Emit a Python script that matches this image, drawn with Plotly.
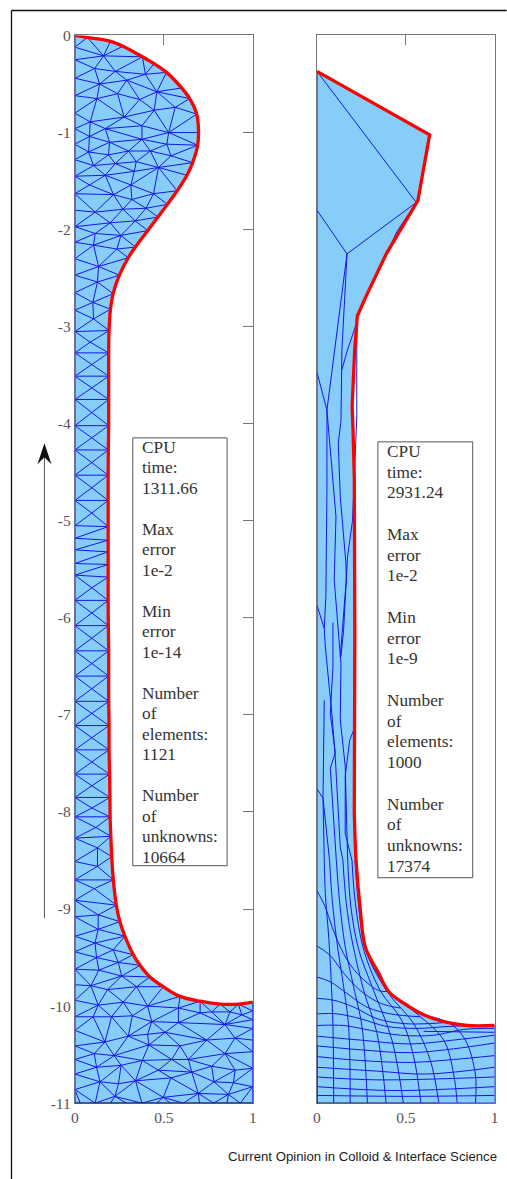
import plotly.graph_objects as go

# ---------- tick labels ----------
Y_TICKS = [0, -1, -2, -3, -4, -5, -6, -7, -8, -9, -10, -11]
Y_LABELS = ["0", "-1", "-2", "-3", "-4", "-5", "-6", "-7", "-8", "-9", "-10", "-11"]
X_TICKS = [0, 0.5, 1]
X_LABELS = ["0", "0.5", "1"]

# ---------- left panel: free surface (top to bottom) ----------
LEFT_SURFACE = [(0.0, 0.0), (0.07, -0.02), (0.2, -0.06), (0.27, -0.11), (0.38, -0.22), (0.445, -0.29),
    (0.515, -0.38), (0.60, -0.54), (0.645, -0.65), (0.685, -0.81), (0.695, -1.0), (0.69, -1.13),
    (0.662, -1.31), (0.63, -1.44), (0.575, -1.60), (0.52, -1.74), (0.467, -1.87), (0.41, -2.01),
    (0.34, -2.18), (0.30, -2.29), (0.25, -2.47), (0.215, -2.66), (0.2, -2.82), (0.192, -3.04),
    (0.19, -3.27), (0.19, -3.51), (0.19, -3.75), (0.19, -4.02), (0.188, -4.27), (0.187, -4.53),
    (0.187, -4.79), (0.187, -5.06), (0.187, -5.2), (0.187, -5.32), (0.187, -5.45), (0.187, -5.58),
    (0.187, -5.82), (0.188, -6.08), (0.19, -6.34), (0.19, -6.6), (0.19, -6.86), (0.192, -7.11),
    (0.192, -7.36), (0.195, -7.61), (0.197, -7.85), (0.198, -8.05), (0.202, -8.25), (0.207, -8.46),
    (0.216, -8.7), (0.233, -8.96), (0.253, -9.13), (0.281, -9.28), (0.328, -9.47), (0.366, -9.58),
    (0.422, -9.70), (0.497, -9.80), (0.591, -9.90), (0.704, -9.95), (0.816, -9.98), (0.919, -9.98),
    (1.0, -9.96)]
LEFT_AXIS_Y = [-0.12, -0.25, -0.44, -0.62, -0.80, -0.96, -1.12, -1.28, -1.45, -1.63, -1.80, -1.97,
    -2.13, -2.30, -2.47, -2.65, -2.83, -3.05, -3.27, -3.51, -3.75, -4.02, -4.27, -4.53, -4.79, -5.05,
    -5.18, -5.30, -5.44, -5.56, -5.82, -6.08, -6.34, -6.6, -6.86, -7.11, -7.36, -7.61, -7.85, -8.05,
    -8.27, -8.51, -8.70, -8.91, -9.08, -9.28, -9.44, -9.62, -9.78, -9.94, -10.11, -10.25, -10.41,
    -10.55, -10.70, -10.86]
LEFT_BOTTOM_X = [0.03, 0.114, 0.2, 0.29, 0.377, 0.46, 0.535, 0.61, 0.70, 0.78, 0.855, 0.93]
LEFT_EDGE_Y = [-10.05, -10.14, -10.23, -10.35, -10.47, -10.64, -10.83]
LEFT_INNER = [(0.161, -0.21), (0.111, -0.34), (0.227, -0.37), (0.396, -0.40), (0.139, -0.50), (0.292, -0.46),
    (0.461, -0.58), (0.124, -0.65), (0.24, -0.60), (0.364, -0.66), (0.564, -0.74), (0.446, -0.77),
    (0.277, -0.84), (0.086, -0.89), (0.171, -0.96), (0.377, -0.93), (0.527, -1.0), (0.082, -1.04),
    (0.195, -1.10), (0.377, -1.07), (0.517, -1.12), (0.077, -1.20), (0.189, -1.23), (0.302, -1.19),
    (0.424, -1.19), (0.54, -1.24), (0.105, -1.34), (0.227, -1.32), (0.345, -1.30), (0.47, -1.36),
    (0.171, -1.44), (0.334, -1.40), (0.082, -1.54), (0.315, -1.54), (0.442, -1.63), (0.217, -1.64),
    (0.32, -1.69), (0.114, -1.82), (0.27, -1.79), (0.40, -1.78), (0.199, -1.93), (0.339, -1.91),
    (0.114, -2.04), (0.259, -2.06), (0.105, -2.16), (0.236, -2.20), (0.133, -2.38), (0.127, -2.54),
    (0.101, -2.75), (0.105, -2.92), (0.086, -3.16),
    (0.095, -3.39), (0.095, -3.63), (0.095, -3.885), (0.095, -4.145), (0.095, -4.40), (0.095, -4.66),
    (0.095, -4.92), (0.095, -5.69), (0.095, -5.95), (0.095, -6.21), (0.095, -6.47), (0.095, -6.73),
    (0.095, -6.985), (0.095, -7.235), (0.095, -7.485), (0.095, -7.73),
    (0.096, -7.96), (0.118, -8.16), (0.127, -8.37), (0.127, -8.56), (0.109, -8.79), (0.131, -9.06),
    (0.131, -9.21), (0.113, -9.35), (0.216, -9.42), (0.122, -9.50), (0.244, -9.55), (0.135, -9.63),
    (0.263, -9.69), (0.09, -9.79), (0.184, -9.83), (0.347, -9.80), (0.131, -9.99), (0.272, -9.96),
    (0.409, -10.0), (0.582, -10.02), (0.103, -10.11), (0.206, -10.11), (0.323, -10.10), (0.432, -10.16),
    (0.582, -10.17), (0.704, -10.07), (0.769, -10.06), (0.872, -10.06), (0.938, -10.09), (0.844, -10.19),
    (0.169, -10.37), (0.30, -10.31), (0.409, -10.29), (0.507, -10.27), (0.591, -10.41), (0.416, -10.40),
    (0.741, -10.35), (0.90, -10.33), (0.109, -10.49), (0.221, -10.51), (0.379, -10.56), (0.544, -10.55),
    (0.638, -10.55), (0.844, -10.49), (0.122, -10.63), (0.26, -10.61), (0.469, -10.66), (0.657, -10.68),
    (0.769, -10.62), (0.901, -10.66), (0.141, -10.78), (0.341, -10.77), (0.245, -10.80), (0.54, -10.74),
    (0.694, -10.90), (0.782, -10.78), (0.891, -10.79), (0.497, -10.94), (0.225, -10.93), (0.863, -10.91)]

# ---------- right panel: free surface and mesh lines ----------
RIGHT_SURFACE_UPPER = [(0.0, -0.37), (0.634, -1.024), (0.568, -1.70), (0.39, -2.25), (0.278, -2.68), (0.227, -2.89),
    (0.212, -3.25), (0.205, -3.6), (0.198, -3.82), (0.203, -4.07), (0.21, -4.55), (0.213, -6.15), (0.21, -7.2),
    (0.21, -8.0)]
RIGHT_SURFACE_LOWER = [(0.21, -8.0), (0.22, -8.5), (0.244, -9.01), (0.272, -9.39), (0.347, -9.66), (0.403, -9.85),
    (0.488, -9.97), (0.6, -10.09), (0.713, -10.16), (0.844, -10.2), (1.0, -10.2)]
RIGHT_TOP_LINES = [
    [(0.0, -0.37), (0.559, -1.72)],
    [(0.0, -1.80), (0.169, -2.25), (0.559, -1.72)],
    [(0.559, -1.72), (0.45, -2.02), (0.227, -2.89), (0.224, -3.18), (0.224, -3.93), (0.21, -4.48), (0.2, -5.0),
     (0.172, -5.37), (0.16, -5.78), (0.15, -6.12), (0.135, -6.4)],
    [(0.169, -2.25), (0.10, -3.25), (0.056, -3.86), (0.107, -4.96), (0.097, -5.61), (0.135, -6.47), (0.131, -7.05),
     (0.159, -7.53), (0.173, -8.50)],
    [(0.169, -2.25), (0.14, -3.25), (0.139, -3.45), (0.135, -3.97), (0.12, -4.2), (0.131, -4.75), (0.163, -5.44),
     (0.165, -5.61), (0.131, -6.40)],
    [(0.225, -2.95), (0.17, -3.25), (0.139, -3.45)],
    [(0.0, -3.47), (0.056, -3.86), (0.056, -4.69), (0.05, -5.78), (0.041, -6.11), (0.047, -6.30), (0.084, -6.99),
     (0.103, -7.43), (0.112, -7.74), (0.131, -8.36), (0.146, -8.5)],
    [(0.0, -5.87), (0.041, -6.11)],
    [(0.041, -6.85), (0.034, -7.84), (0.041, -8.5)],
    [(0.09, -6.05), (0.09, -6.50), (0.075, -6.99), (0.103, -7.39), (0.075, -7.55), (0.109, -8.50)],
    [(0.206, -7.16), (0.184, -7.26), (0.159, -7.63), (0.159, -8.22), (0.197, -8.50)],
    [(0.0, -7.76), (0.034, -7.86), (0.071, -8.50)],
]
RIGHT_RISERS = [
    [(0.041, -8.50), (0.047, -8.84), (0.066, -9.29), (0.079, -9.70), (0.09, -10.21), (0.094, -11)],
    [(0.071, -8.50), (0.086, -8.91), (0.116, -9.39), (0.15, -9.80), (0.178, -10.21), (0.187, -11)],
    [(0.109, -8.50), (0.128, -8.94), (0.159, -9.39), (0.206, -9.80), (0.253, -10.21), (0.284, -11)],
    [(0.146, -8.50), (0.165, -8.94), (0.197, -9.32), (0.263, -9.84), (0.338, -10.28), (0.389, -11)],
    [(0.173, -8.50), (0.191, -8.98), (0.235, -9.42), (0.31, -9.80), (0.422, -10.35), (0.486, -11)],
    [(0.197, -8.50), (0.216, -8.94), (0.263, -9.42), (0.356, -9.84), (0.478, -10.15), (0.544, -10.52), (0.585, -11)],
    [(0.214, -8.50), (0.244, -9.12), (0.281, -9.46), (0.403, -9.87), (0.544, -10.18), (0.638, -10.56), (0.686, -11)],
    [(0.291, -9.49), (0.413, -9.87), (0.563, -10.08), (0.713, -10.35), (0.769, -10.70), (0.789, -11)],
    [(0.60, -10.09), (0.75, -10.18), (0.835, -10.35), (0.891, -10.70), (0.892, -11)],
]
RIGHT_LAYERS = [
    [(0, -8.81), (0.047, -8.98), (0.084, -9.18), (0.15, -9.46), (0.225, -9.66), (0.347, -9.84), (0.398, -9.85)],
    [(0, -9.38), (0.075, -9.48), (0.15, -9.66), (0.244, -9.84), (0.356, -9.97), (0.469, -10.02)],
    [(0, -9.70), (0.075, -9.75), (0.169, -9.87), (0.281, -10.01), (0.413, -10.08), (0.582, -10.11)],
    [(0, -9.92), (0.094, -9.94), (0.206, -10.01), (0.338, -10.13), (0.488, -10.18), (0.638, -10.18), (0.713, -10.17)],
    [(0, -10.08), (0.113, -10.08), (0.244, -10.13), (0.394, -10.21), (0.563, -10.23), (0.732, -10.21), (0.844, -10.20)],
    [(0, -10.20), (0.15, -10.20), (0.30, -10.25), (0.469, -10.30), (0.657, -10.30), (0.826, -10.24), (1, -10.23)],
    [(0, -10.31), (0.244, -10.35), (0.525, -10.39), (0.769, -10.35), (1, -10.30)],
    [(0, -10.41), (0.244, -10.45), (0.525, -10.48), (0.769, -10.44), (1, -10.38)],
    [(0, -10.52), (0.244, -10.56), (0.525, -10.58), (0.769, -10.55), (1, -10.51)],
    [(0, -10.63), (0.338, -10.67), (0.619, -10.70), (1, -10.63)],
    [(0, -10.73), (0.338, -10.76), (1, -10.73)],
    [(0, -10.83), (0.432, -10.87), (1, -10.83)],
    [(0, -10.92), (0.525, -10.93), (1, -10.92)],
    [(0.6, -10.26), (1, -10.27)],
]

LEFT_BOX = ["CPU", "time:", "1311.66", "", "Max", "error", "1e-2", "", "Min", "error", "1e-14", "",
            "Number", "of", "elements:", "1121", "", "Number", "of", "unknowns:", "10664"]
RIGHT_BOX = ["CPU", "time:", "2931.24", "", "Max", "error", "1e-2", "", "Min", "error", "1e-9", "",
             "Number", "of", "elements:", "1000", "", "Number", "of", "unknowns:", "17374"]
CREDIT = "Current Opinion in Colloid & Interface Science"

FILL = "#87CDFA"
MESH = "#1616E6"
RED = "#FF0000"
W, H = 511, 1188
SCALE = 0.986
DX, DY = 3.5, 8.5


def PX(x):
    return (x - DX) / SCALE / W


def PY(y):
    return 1 - (y - DY) / SCALE / H


def delaunay(points):
    # Bowyer-Watson triangulation of the nodes
    pts = list(points) + [(-50.0, -80.0), (60.0, -80.0), (0.5, 70.0)]
    n = len(points)
    def circum(t):
        (ax, ay), (bx, by), (cx, cy) = pts[t[0]], pts[t[1]], pts[t[2]]
        d = 2 * (ax * (by - cy) + bx * (cy - ay) + cx * (ay - by))
        ux = ((ax*ax+ay*ay)*(by-cy) + (bx*bx+by*by)*(cy-ay) + (cx*cx+cy*cy)*(ay-by)) / d
        uy = ((ax*ax+ay*ay)*(cx-bx) + (bx*bx+by*by)*(ax-cx) + (cx*cx+cy*cy)*(bx-ax)) / d
        return ux, uy, (ax-ux)**2 + (ay-uy)**2
    tris = [(n, n + 1, n + 2)]
    cache = {tris[0]: circum(tris[0])}
    for i in range(n):
        px, py = pts[i]
        bad = [t for t in tris if (px-cache[t][0])**2 + (py-cache[t][1])**2 < cache[t][2]]
        edges = {}
        for t in bad:
            for e in ((t[0], t[1]), (t[1], t[2]), (t[2], t[0])):
                k = tuple(sorted(e))
                edges[k] = edges.get(k, 0) + 1
        tris = [t for t in tris if t not in bad]
        for (a, b), c in edges.items():
            if c == 1:
                (ax, ay), (bx, by) = pts[a], pts[b]
                if abs((ax-px)*(by-py) - (ay-py)*(bx-px)) < 1e-12:
                    continue
                t = (a, b, i)
                cache[t] = circum(t)
                tris.append(t)
    return [t for t in tris if max(t) < n]


def inside(p, poly):
    x, y = p
    res = False
    for i in range(len(poly)):
        (x1, y1), (x2, y2) = poly[i], poly[(i + 1) % len(poly)]
        if (y1 > y) != (y2 > y) and x < x1 + (y - y1) * (x2 - x1) / (y2 - y1):
            res = not res
    return res


left_poly = LEFT_SURFACE + [(1.0, y) for y in LEFT_EDGE_Y] + [(1.0, -11.0)] + \
    [(x, -11.0) for x in reversed(LEFT_BOTTOM_X)] + [(0.0, -11.0)] + [(0.0, y) for y in reversed(LEFT_AXIS_Y)]
left_nodes = left_poly + LEFT_INNER
seen = set()
mx, my = [], []
for t in delaunay(left_nodes):
    c = tuple(sum(left_nodes[i][k] for i in t) / 3 for k in (0, 1))
    if not inside(c, left_poly):
        continue
    for a, b in ((t[0], t[1]), (t[1], t[2]), (t[2], t[0])):
        k = tuple(sorted((a, b)))
        if k not in seen:
            seen.add(k)
            mx += [left_nodes[a][0], left_nodes[b][0], None]
            my += [left_nodes[a][1], left_nodes[b][1], None]

right_poly = RIGHT_SURFACE_UPPER + RIGHT_SURFACE_LOWER[1:] + [(1.0, -11.0), (0.0, -11.0)]


def flat(lines):
    xs, ys = [], []
    for line in lines:
        xs += [p[0] for p in line] + [None]
        ys += [p[1] for p in line] + [None]
    return xs, ys


fig = go.Figure()


def add(xs, ys, color, width, axis, shape="linear"):
    fig.add_trace(go.Scatter(x=xs, y=ys, mode="lines", line=dict(color=color, width=width, shape=shape),
                             xaxis="x" + axis, yaxis="y" + axis, cliponaxis=False,
                             hoverinfo="skip", showlegend=False))


fig.add_trace(go.Scatter(x=[p[0] for p in left_poly], y=[p[1] for p in left_poly], mode="lines", fill="toself",
                         fillcolor=FILL, line=dict(width=0), xaxis="x", yaxis="y",
                         hoverinfo="skip", showlegend=False))
fig.add_trace(go.Scatter(x=[p[0] for p in right_poly], y=[p[1] for p in right_poly], mode="lines", fill="toself",
                         fillcolor=FILL, line=dict(width=0), xaxis="x2", yaxis="y2",
                         hoverinfo="skip", showlegend=False))
add(mx, my, MESH, 1.0, "")
tx, ty = flat(RIGHT_TOP_LINES)
add(tx, ty, MESH, 1.0, "2")
sx, sy = flat(RIGHT_RISERS + RIGHT_LAYERS)
add(sx, sy, MESH, 1.0, "2", "spline")
add([0, 0], [0, -11], "#4F62F5", 1.6, "")
add([0, 0], [-0.37, -11], "#2A3CF0", 1.3, "2")
add([1, 1], [-10.2, -11], "#3A4CF0", 1.2, "2")
add([1, 1], [-9.96, -11], "#3A4CF0", 1.2, "")
add([0, 1], [-11, -11], "#1A1A50", 1.1, "")
add([0, 0.68], [-11, -11], "#1A1A50", 1.1, "2")
add([0.68, 1], [-11, -11], "#2A3CF0", 1.1, "2")
add([0, 0], [-10.4, -11], "#1A1A50", 1.1, "2")
add([p[0] for p in LEFT_SURFACE], [p[1] for p in LEFT_SURFACE], RED, 3.3, "", "spline")
add([p[0] for p in RIGHT_SURFACE_UPPER], [p[1] for p in RIGHT_SURFACE_UPPER], RED, 3.3, "2")
add([p[0] for p in RIGHT_SURFACE_LOWER], [p[1] for p in RIGHT_SURFACE_LOWER], RED, 3.3, "2", "spline")

tick_font = dict(family="Liberation Serif", size=15.5, color="#555555")
ax_common = dict(range=[0, 1], showgrid=False, zeroline=False, showline=True, linecolor="#777777", linewidth=1,
                 mirror="ticks", ticks="inside", ticklen=10, tickcolor="#777777", tickfont=tick_font,
                 tickvals=X_TICKS, ticktext=X_LABELS, layer="below traces")
ydomain = [PY(1103), PY(35)]

annotations = []
for lines, left, first, step in ((LEFT_BOX, 140, 447, 20.5), (RIGHT_BOX, 385.5, 451, 20.75)):
    for i, line in enumerate(lines):
        if line:
            annotations.append(dict(xref="paper", yref="paper", x=PX(left), y=PY(first + i * step), xanchor="left",
                                    yanchor="middle", align="left", showarrow=False, text=line,
                                    font=dict(family="Liberation Serif", size=17.3, color="#333333")))
annotations.append(dict(xref="paper", yref="paper", x=PX(499), y=PY(1156), xanchor="right", yanchor="middle",
                        showarrow=False, text=CREDIT.replace("&", "&amp;"),
                        font=dict(family="Liberation Sans", size=13.2, color="#1a1a1a")))


def rect(x0, y0, x1, y1):
    return dict(type="rect", xref="paper", yref="paper", x0=PX(x0), x1=PX(x1), y0=PY(y0), y1=PY(y1),
                line=dict(color="#555555", width=1), fillcolor="rgba(0,0,0,0)")


def seg(x0, y0, x1, y1, color, width):
    return dict(type="line", xref="paper", yref="paper", x0=PX(x0), x1=PX(x1), y0=PY(y0), y1=PY(y1),
                line=dict(color=color, width=width))


head = "M {:.5f} {:.5f} L {:.5f} {:.5f} L {:.5f} {:.5f} L {:.5f} {:.5f} Z".format(
    PX(44), PY(443), PX(51), PY(464), PX(44), PY(457), PX(37), PY(464))
shapes = [
    rect(132.5, 437.5, 227, 865.5),
    rect(378, 441.5, 473, 877.5),
    seg(11, 10, 507, 10, "#111111", 1.3),
    seg(11, 10, 11, 1179, "#111111", 1.3),
    seg(44, 918, 44, 450, "#555555", 1),
    dict(type="path", xref="paper", yref="paper", path=head, fillcolor="#111111", line=dict(width=0)),
]

fig.update_layout(
    width=W, height=H, autosize=False, margin=dict(l=0, r=0, t=0, b=0), paper_bgcolor="white", plot_bgcolor="white",
    showlegend=False, annotations=annotations, shapes=shapes,
    xaxis=dict(domain=[PX(74.5), PX(252.7)], anchor="y", **ax_common),
    yaxis=dict(domain=ydomain, range=[-11, 0], anchor="x", showgrid=False, zeroline=False, showline=True,
               linecolor="#777777", linewidth=1, mirror="ticks", ticks="inside", ticklen=10, tickcolor="#777777",
               tickvals=Y_TICKS, ticktext=Y_LABELS, tickfont=tick_font, layer="below traces"),
    xaxis2=dict(domain=[PX(317), PX(495)], anchor="y2", **ax_common),
    yaxis2=dict(domain=ydomain, range=[-11, 0], anchor="x2", showgrid=False, zeroline=False, showline=True,
                linecolor="#777777", linewidth=1, mirror=True, ticks="", showticklabels=False, layer="below traces"),
)

fig.write_html("out.html", config={"displayModeBar": False})
page = open("out.html", encoding="utf-8").read()
page = page.replace("<body>", '<body style="margin:0;overflow:hidden">', 1)
open("out.html", "w", encoding="utf-8").write(page)
